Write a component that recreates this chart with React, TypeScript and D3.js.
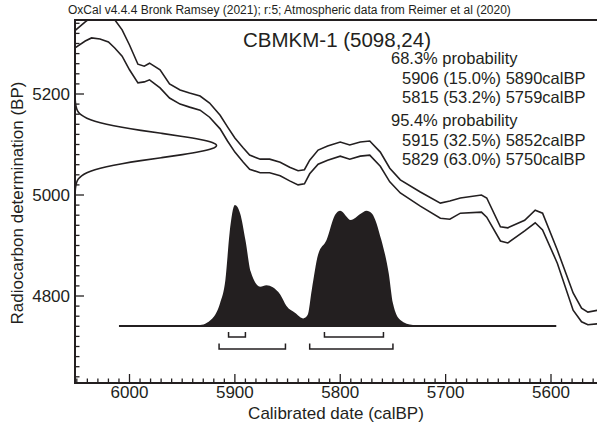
import React from "react";
import * as d3 from "d3";

// ---------------- data ----------------
const HEADER = "OxCal v4.4.4 Bronk Ramsey (2021); r:5; Atmospheric data from Reimer et al (2020)";
const TITLE = "CBMKM-1 (5098,24)";
const X_LABEL = "Calibrated date (calBP)";
const Y_LABEL = "Radiocarbon determination (BP)";
const X_TICKS = [6000, 5900, 5800, 5700, 5600];
const Y_TICKS = [4800, 5000, 5200];

const RANGE_LINES = [
  { text: "68.3% probability", indent: 0 },
  { text: "5906 (15.0%) 5890calBP", indent: 1 },
  { text: "5815 (53.2%) 5759calBP", indent: 1 },
  { text: "95.4% probability", indent: 0 },
  { text: "5915 (32.5%) 5852calBP", indent: 1 },
  { text: "5829 (63.0%) 5750calBP", indent: 1 },
];
const RANGES_68 = [[5906, 5890], [5815, 5759]];
const RANGES_95 = [[5915, 5852], [5829, 5750]];

// calibration curve (calBP, upper BP, lower BP)
const CURVE_T = [6052, 6042, 6036, 6028, 6020, 6014, 6007, 6000, 5992, 5986, 5981, 5971, 5962, 5952, 5943, 5933, 5924, 5914, 5907, 5900, 5892, 5886, 5876, 5867, 5857, 5848, 5840, 5834, 5829, 5821, 5812, 5800, 5791, 5781, 5772, 5762, 5753, 5743, 5724, 5705, 5696, 5686, 5666, 5661, 5648, 5641, 5625, 5615, 5608, 5594, 5579, 5571, 5565, 5555];
const CURVE_UP = [5325, 5343, 5352, 5358, 5356, 5347, 5327, 5297, 5259, 5255, 5261, 5248, 5220, 5208, 5202, 5196, 5182, 5158, 5135, 5113, 5093, 5079, 5071, 5071, 5065, 5055, 5048, 5050, 5069, 5089, 5097, 5105, 5099, 5105, 5107, 5085, 5053, 5030, 5006, 4984, 4988, 4994, 5000, 4994, 4937, 4935, 4950, 4970, 4964, 4891, 4806, 4776, 4768, 4772];
const CURVE_LO = [5291, 5305, 5311, 5309, 5303, 5291, 5275, 5248, 5222, 5224, 5228, 5212, 5192, 5180, 5174, 5168, 5154, 5131, 5107, 5085, 5065, 5051, 5044, 5044, 5038, 5028, 5020, 5022, 5042, 5061, 5069, 5077, 5071, 5077, 5079, 5057, 5026, 5004, 4978, 4954, 4952, 4964, 4966, 4956, 4909, 4905, 4929, 4945, 4931, 4865, 4772, 4749, 4743, 4745];

// calibrated probability (calBP, relative probability)
const CAL_T = [6010, 5960, 5952, 5933, 5920, 5914, 5909, 5905, 5900, 5895, 5890, 5885, 5876, 5870, 5864, 5857, 5851, 5843, 5835, 5831, 5827, 5821, 5813, 5805, 5800, 5790, 5781, 5775, 5770, 5761, 5754, 5750, 5743, 5731, 5715, 5595];
const CAL_P = [0, 0, 0, 0.008, 0.077, 0.19, 0.38, 0.77, 1.0, 0.93, 0.71, 0.45, 0.325, 0.337, 0.32, 0.26, 0.165, 0.11, 0.063, 0.09, 0.3, 0.59, 0.71, 0.917, 0.953, 0.876, 0.926, 0.953, 0.93, 0.71, 0.436, 0.187, 0.05, 0.008, 0, 0];

// radiocarbon measurement distribution (BP, relative density)
const RC_BP = [4978, 5002, 5014, 5026, 5032, 5038, 5044, 5050, 5056, 5062, 5068, 5074, 5080, 5086, 5092, 5098, 5104, 5110, 5116, 5122, 5128, 5134, 5140, 5146, 5152, 5158, 5164, 5170, 5182, 5194, 5218];
const RC_D = [0, 0.0003, 0.0022, 0.0111, 0.0228, 0.0439, 0.0796, 0.1353, 0.2163, 0.3247, 0.4578, 0.6065, 0.7548, 0.8825, 0.969, 1, 0.969, 0.8825, 0.7548, 0.6065, 0.4578, 0.3247, 0.2163, 0.1353, 0.0796, 0.0439, 0.0228, 0.0111, 0.0022, 0.0003, 0];

// ---------------- layout ----------------
const W = 597;
const H = 426;
const L = 75;
const T = 20;
const B = 383;
const R = 600;
const INK = "#231f20";
const FONT = "'Liberation Sans', Arial, Helvetica, sans-serif";

export default function App() {
  const x = d3.scaleLinear().domain([6000, 5600]).range([129.5, 551]);
  const y = d3.scaleLinear().domain([5000, 4800]).range([195, 296]);
  const yp = d3.scaleLinear().domain([0, 1]).range([326, 205]);
  const gx = d3.scaleLinear().domain([0, 1]).range([L, 218]);

  const curveLine = d3.line<number>().x((_, i) => x(CURVE_T[i])).y((d) => y(d)).curve(d3.curveLinear);
  const calArea = d3
    .area<number>()
    .x((_, i) => x(CAL_T[i]))
    .y0(yp(0))
    .y1((d) => yp(d))
    .curve(d3.curveMonotoneX);
  const rcLine = d3
    .line<number>()
    .x((d) => gx(d))
    .y((_, i) => y(RC_BP[i]))
    .curve(d3.curveBasis);

  const xMinor = d3.range(6050, 5550, -10);
  const yMinor = d3.range(4640, 5350, 20);

  const [tLeft, tRight] = [x.invert(L), x.invert(R)];

  const bracket = (r: number[], yb: number, h: number, key: string) => (
    <path
      key={key}
      d={`M${x(r[0])},${yb - h}V${yb}H${x(r[1])}V${yb - h}`}
      fill="none"
      stroke={INK}
      strokeWidth={1.5}
    />
  );

  return (
    <svg
      width={W}
      height={H}
      style={{ position: "absolute", left: 0, top: 0, background: "#fff" }}
      fontFamily={FONT}
    >
      <defs>
        <clipPath id="plot">
          <rect x={L} y={T} width={R - L} height={B - T} />
        </clipPath>
      </defs>

      <text x={68} y={14} fontSize={12} fill={INK}>
        {HEADER}
      </text>

      <g clipPath="url(#plot)">
        <path d={curveLine(CURVE_UP) || ""} fill="none" stroke={INK} strokeWidth={1.6} />
        <path d={curveLine(CURVE_LO) || ""} fill="none" stroke={INK} strokeWidth={1.6} />
        <path d={rcLine(RC_D) || ""} fill="none" stroke={INK} strokeWidth={1.6} />
        <path d={calArea(CAL_P) || ""} fill={INK} stroke="none" />
        <line
          x1={x(CAL_T[0])}
          x2={x(CAL_T[CAL_T.length - 1])}
          y1={yp(0)}
          y2={yp(0)}
          stroke={INK}
          strokeWidth={2}
        />
        {RANGES_68.map((r, i) => bracket(r, 337, 5, "a" + i))}
        {RANGES_95.map((r, i) => bracket(r, 349, 5.5, "b" + i))}
      </g>

      {/* frame */}
      <path d={`M${R},${T}H${L}V${B}H${R}`} fill="none" stroke={INK} strokeWidth={2} />

      {/* x ticks */}
      {xMinor
        .filter((t) => t <= tLeft && t >= tRight)
        .map((t) => (
          <line key={"xm" + t} x1={x(t)} x2={x(t)} y1={B} y2={B - (t % 100 === 0 ? 9 : 4.5)} stroke={INK} strokeWidth={1.3} />
        ))}
      {X_TICKS.map((t) => (
        <text key={"xl" + t} x={x(t)} y={398} fontSize={17} textAnchor="middle" fill={INK}>
          {t}
        </text>
      ))}

      {/* y ticks */}
      {yMinor.map((v) => (
        <line key={"ym" + v} x1={L} x2={L + (v % 200 === 0 ? 9 : 4.5)} y1={y(v)} y2={y(v)} stroke={INK} strokeWidth={1.3} />
      ))}
      {Y_TICKS.map((v) => (
        <text key={"yl" + v} x={70} y={y(v) + 6} fontSize={17} textAnchor="end" fill={INK}>
          {v}
        </text>
      ))}

      <text x={336} y={419} fontSize={17} textAnchor="middle" fill={INK}>
        {X_LABEL}
      </text>
      <text transform="translate(23,203) rotate(-90)" fontSize={17} textAnchor="middle" fill={INK}>
        {Y_LABEL}
      </text>

      <text x={337} y={47} fontSize={20.5} textAnchor="middle" fill={INK}>
        {TITLE}
      </text>
      {RANGE_LINES.map((l, i) => (
        <text key={"r" + i} x={l.indent ? 402 : 391} y={[64, 83.5, 103, 126, 145.5, 165][i]} fontSize={16.5} fill={INK}>
          {l.text}
        </text>
      ))}
    </svg>
  );
}
